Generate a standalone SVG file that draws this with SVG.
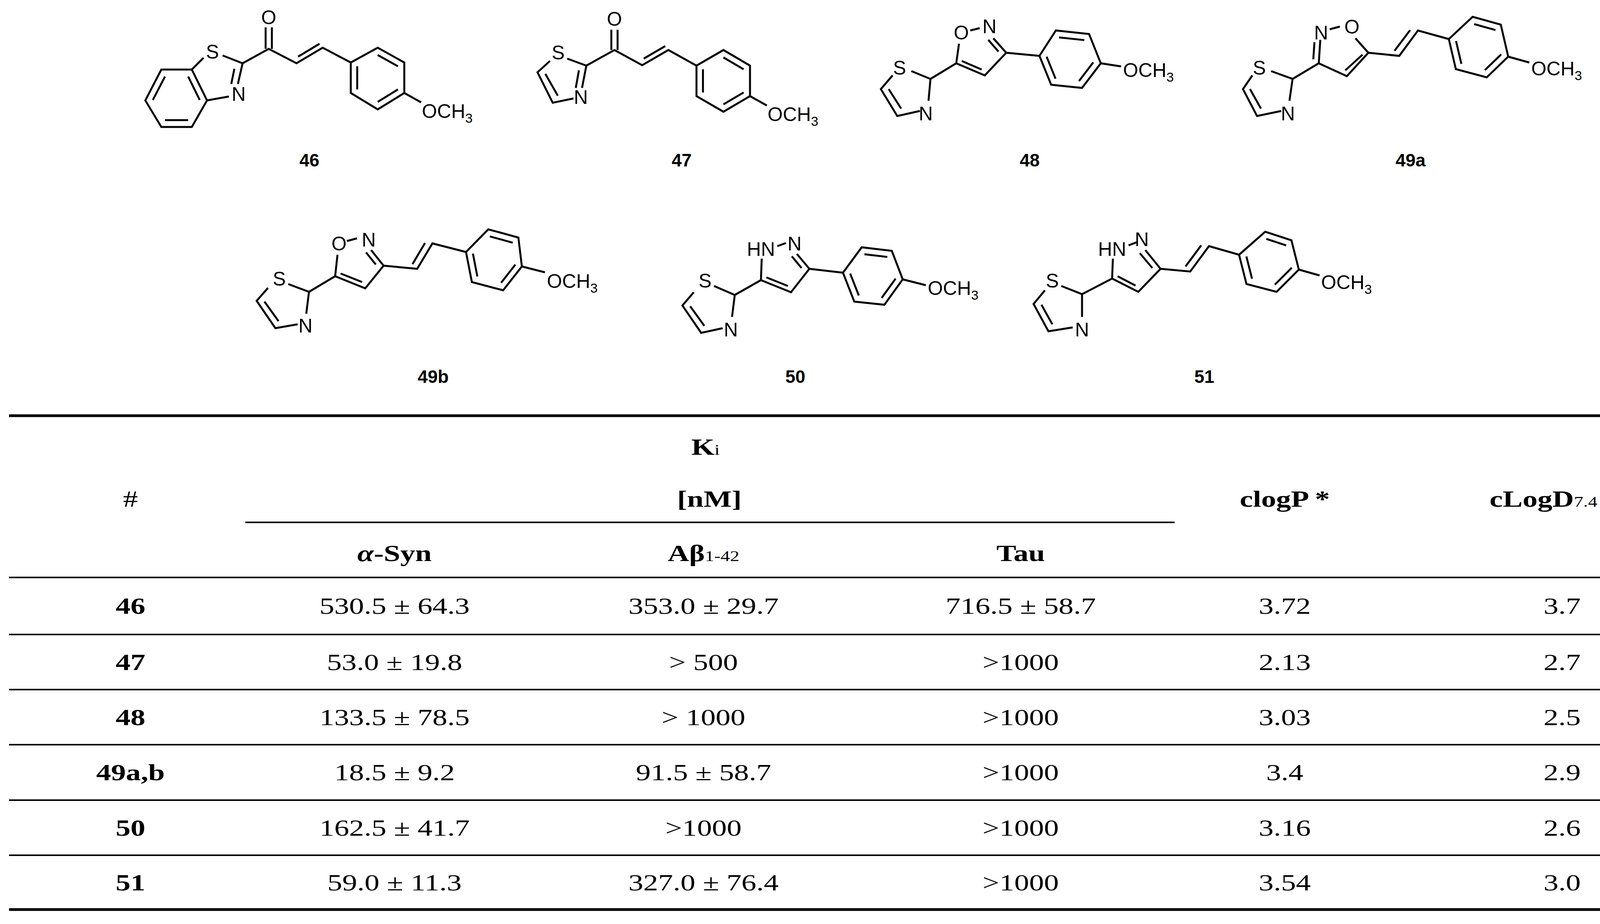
<svg xmlns="http://www.w3.org/2000/svg" width="4435" height="2365" viewBox="0 0 4435 2365">
<style>
.b{stroke:#000;stroke-width:5;fill:none;stroke-linejoin:miter;stroke-linecap:butt}
.in line,.in polyline{stroke:#000;stroke-width:5;fill:none;vector-effect:non-scaling-stroke}
.at{font-family:"Liberation Sans",Arial,sans-serif;font-size:50px;fill:#000;text-anchor:middle}
.ot{font-family:"Liberation Sans",Arial,sans-serif;font-size:50px;fill:#000}
.lb{font-family:"Liberation Sans",Arial,sans-serif;font-size:46px;font-weight:bold;fill:#000;text-anchor:middle}
.t{font-family:"Liberation Serif","Times New Roman",serif;font-size:60px;fill:#000;text-anchor:middle}
.tb{font-family:"Liberation Serif","Times New Roman",serif;font-size:60px;font-weight:bold;fill:#000;text-anchor:middle}
.rl{stroke:#000;stroke-width:4}
.tl{stroke:#000;stroke-width:7}
</style>
<rect width="4435" height="2365" fill="#fff"/>

<!-- 46 -->
<g id="c46">
<polygon class="b" points="413,178 491,178 530,257 491,325 413,325 372,257"/>
<g class="in" transform="matrix(0.76,0,0,0.76,108.5,60.5)"><line x1="413" y1="178" x2="372" y2="257"/><line x1="491" y1="178" x2="530" y2="257"/><line x1="491" y1="325" x2="413" y2="325"/></g>
<polyline class="b" points="491,178 521,148"/>
<polyline class="b" points="570,142 621,162 609,215"/>
<line class="b" x1="600" y1="176" x2="592" y2="215"/>
<polyline class="b" points="586,247 530,257"/>
<text class="at" x="544" y="150">S</text>
<text class="at" x="611" y="258">N</text>
<polyline class="b" points="621,162 688,125 759,162 826,122 898,160"/>
<line class="b" x1="763" y1="145" x2="818" y2="112"/>
<line class="b" x1="680" y1="125" x2="680" y2="70"/><line class="b" x1="696" y1="125" x2="696" y2="70"/>
<text class="at" x="688" y="62">O</text>
<polygon class="b" points="898,160 967,122 1035,160 1035,238 967,280 898,238"/>
<g class="in" transform="matrix(0.76,0,0,0.76,232,48)"><line x1="967" y1="122" x2="1035" y2="160"/><line x1="1035" y1="238" x2="967" y2="280"/><line x1="898" y1="238" x2="898" y2="160"/></g>
<line class="b" x1="1035" y1="238" x2="1078" y2="262"/>
<text class="ot" x="1080" y="302">OCH<tspan font-size="34" dy="12">3</tspan></text>
<text class="lb" x="792" y="426">46</text>
</g>

<!-- 47 -->
<g id="c47">
<polyline class="b" points="1452,150 1501,168 1490,225"/>
<line class="b" x1="1482" y1="180" x2="1474" y2="225"/>
<polyline class="b" points="1468,252 1415,263 1376,185 1408,156"/>
<line class="b" x1="1428" y1="245" x2="1396" y2="189"/>
<text class="at" x="1429" y="152">S</text>
<text class="at" x="1487" y="266">N</text>
<polyline class="b" points="1501,168 1573,128 1644,167 1711,128 1783,168"/>
<line class="b" x1="1648" y1="150" x2="1703" y2="118"/>
<line class="b" x1="1565" y1="128" x2="1565" y2="76"/><line class="b" x1="1581" y1="128" x2="1581" y2="76"/>
<text class="at" x="1573" y="66">O</text>
<polygon class="b" points="1783,168 1852,128 1920,168 1920,246 1852,286 1783,246"/>
<g class="in" transform="matrix(0.76,0,0,0.76,444.5,49.7)"><line x1="1852" y1="128" x2="1920" y2="168"/><line x1="1920" y1="246" x2="1852" y2="286"/><line x1="1783" y1="246" x2="1783" y2="168"/></g>
<line class="b" x1="1920" y1="246" x2="1963" y2="270"/>
<text class="ot" x="1965" y="310">OCH<tspan font-size="34" dy="12">3</tspan></text>
<text class="lb" x="1745" y="426">47</text>
</g>

<!-- 48 -->
<g id="c48">
<polyline class="b" points="2333,182 2382,202 2377,258"/>
<polyline class="b" points="2355,284 2297,297 2255,228 2285,193"/>
<line class="b" x1="2307" y1="278" x2="2275" y2="228"/>
<text class="at" x="2303" y="191">S</text>
<text class="at" x="2370" y="308">N</text>
<polyline class="b" points="2382,202 2448,162 2455,112"/>
<text class="at" x="2461" y="101">O</text>
<line class="b" x1="2484" y1="78" x2="2508" y2="72"/>
<text class="at" x="2533" y="85">N</text>
<polyline class="b" points="2543,98 2576,135 2521,193 2448,162"/>
<line class="b" x1="2530" y1="102" x2="2556" y2="132"/>
<line class="b" x1="2513" y1="178" x2="2462" y2="156"/>
<line class="b" x1="2576" y1="135" x2="2661" y2="143"/>
<polygon class="b" points="2661,143 2703,78 2788,87 2818,162 2770,225 2691,217"/>
<g class="in" transform="matrix(0.76,0,0,0.76,657,36.5)"><line x1="2703" y1="78" x2="2788" y2="87"/><line x1="2818" y1="162" x2="2770" y2="225"/><line x1="2691" y1="217" x2="2661" y2="143"/></g>
<line class="b" x1="2818" y1="162" x2="2870" y2="170"/>
<text class="ot" x="2875" y="197">OCH<tspan font-size="34" dy="12">3</tspan></text>
<text class="lb" x="2636" y="426">48</text>
</g>

<!-- 49a -->
<g id="c49a">
<polyline class="b" points="3254,182 3309,202 3301,258"/>
<polyline class="b" points="3280,284 3218,297 3182,228 3206,193"/>
<line class="b" x1="3228" y1="278" x2="3200" y2="228"/>
<text class="at" x="3224" y="191">S</text>
<text class="at" x="3297" y="308">N</text>
<polyline class="b" points="3309,202 3376,162 3380,102"/>
<line class="b" x1="3362" y1="152" x2="3365" y2="108"/>
<text class="at" x="3382" y="101">N</text>
<line class="b" x1="3404" y1="75" x2="3430" y2="68"/>
<text class="at" x="3461" y="86">O</text>
<polyline class="b" points="3470,98 3503,135 3448,195 3376,162"/>
<line class="b" x1="3488" y1="140" x2="3444" y2="180"/>
<polyline class="b" points="3503,135 3582,143 3630,78 3709,100"/>
<line class="b" x1="3570" y1="130" x2="3610" y2="77"/>
<polygon class="b" points="3709,100 3770,43 3842,63 3861,145 3806,198 3727,177"/>
<g class="in" transform="matrix(0.76,0,0,0.76,908.6,29)"><line x1="3770" y1="43" x2="3842" y2="63"/><line x1="3861" y1="145" x2="3806" y2="198"/><line x1="3727" y1="177" x2="3709" y2="100"/></g>
<line class="b" x1="3861" y1="145" x2="3915" y2="160"/>
<text class="ot" x="3920" y="193">OCH<tspan font-size="34" dy="12">3</tspan></text>
<text class="lb" x="3611" y="426">49a</text>
</g>

<!-- 49b -->
<g id="c49b">
<polyline class="b" points="738,727 791,747 784,803"/>
<polyline class="b" points="762,830 705,840 657,770 686,737"/>
<line class="b" x1="713" y1="822" x2="677" y2="772"/>
<text class="at" x="715" y="731">S</text>
<text class="at" x="782" y="851">N</text>
<polyline class="b" points="791,747 858,707 864,652"/>
<text class="at" x="868" y="641">O</text>
<line class="b" x1="888" y1="617" x2="914" y2="610"/>
<text class="at" x="944" y="631">N</text>
<polyline class="b" points="950,640 982,680 935,738 858,707"/>
<line class="b" x1="937" y1="646" x2="962" y2="677"/>
<line class="b" x1="927" y1="722" x2="872" y2="700"/>
<polyline class="b" points="982,680 1068,688 1107,623 1193,645"/>
<line class="b" x1="1056" y1="676" x2="1088" y2="622"/>
<polygon class="b" points="1193,645 1250,587 1327,608 1336,682 1288,743 1208,722"/>
<g class="in" transform="matrix(0.76,0,0,0.76,304,159)"><line x1="1250" y1="587" x2="1327" y2="608"/><line x1="1336" y1="682" x2="1288" y2="743"/><line x1="1208" y1="722" x2="1193" y2="645"/></g>
<line class="b" x1="1336" y1="682" x2="1395" y2="697"/>
<text class="ot" x="1400" y="737">OCH<tspan font-size="34" dy="12">3</tspan></text>
<text class="lb" x="1109" y="980">49b</text>
</g>

<!-- 50 -->
<g id="c50">
<polyline class="b" points="1828,732 1881,755 1874,811"/>
<polyline class="b" points="1850,840 1795,852 1747,782 1776,748"/>
<line class="b" x1="1803" y1="834" x2="1767" y2="784"/>
<text class="at" x="1805" y="736">S</text>
<text class="at" x="1871" y="861">N</text>
<polyline class="b" points="1881,755 1948,717 1950,662"/>
<text class="at" x="1948" y="655">HN</text>
<line class="b" x1="1990" y1="630" x2="2012" y2="622"/>
<text class="at" x="2034" y="641">N</text>
<polyline class="b" points="2040,650 2072,688 2025,748 1948,717"/>
<line class="b" x1="2027" y1="656" x2="2052" y2="686"/>
<line class="b" x1="2017" y1="732" x2="1962" y2="710"/>
<line class="b" x1="2072" y1="688" x2="2158" y2="698"/>
<polygon class="b" points="2158,698 2206,633 2283,642 2311,715 2264,780 2187,772"/>
<g class="in" transform="matrix(0.76,0,0,0.76,536.4,169.7)"><line x1="2206" y1="633" x2="2283" y2="642"/><line x1="2311" y1="715" x2="2264" y2="780"/><line x1="2187" y1="772" x2="2158" y2="698"/></g>
<line class="b" x1="2311" y1="715" x2="2370" y2="730"/>
<text class="ot" x="2375" y="755">OCH<tspan font-size="34" dy="12">3</tspan></text>
<text class="lb" x="2036" y="980">50</text>
</g>

<!-- 51 -->
<g id="c51">
<polyline class="b" points="2717,732 2770,753 2770,811"/>
<polyline class="b" points="2746,838 2684,848 2646,778 2675,743"/>
<line class="b" x1="2694" y1="830" x2="2666" y2="780"/>
<text class="at" x="2694" y="736">S</text>
<text class="at" x="2770" y="861">N</text>
<polyline class="b" points="2770,753 2847,713 2849,662"/>
<text class="at" x="2847" y="655">HN</text>
<line class="b" x1="2889" y1="628" x2="2910" y2="620"/>
<text class="at" x="2923" y="630">N</text>
<polyline class="b" points="2932,640 2971,688 2914,747 2847,713"/>
<line class="b" x1="2918" y1="648" x2="2950" y2="686"/>
<line class="b" x1="2907" y1="731" x2="2861" y2="707"/>
<polyline class="b" points="2971,688 3047,695 3095,630 3172,652"/>
<line class="b" x1="3035" y1="682" x2="3075" y2="628"/>
<polygon class="b" points="3172,652 3239,593 3306,615 3325,690 3268,747 3191,727"/>
<g class="in" transform="matrix(0.76,0,0,0.76,780,160.8)"><line x1="3239" y1="593" x2="3306" y2="615"/><line x1="3325" y1="690" x2="3268" y2="747"/><line x1="3191" y1="727" x2="3172" y2="652"/></g>
<line class="b" x1="3325" y1="690" x2="3378" y2="705"/>
<text class="ot" x="3382" y="740">OCH<tspan font-size="34" dy="12">3</tspan></text>
<text class="lb" x="3083" y="980">51</text>
</g>

<!-- table -->
<g id="table">
<line class="tl" x1="23" y1="1064" x2="4400" y2="1064"/>
<line class="rl" x1="628" y1="1337" x2="3007" y2="1337"/>
<line class="rl" x1="23" y1="1478" x2="4400" y2="1478"/>
<line class="rl" x1="23" y1="1624" x2="4400" y2="1624"/>
<line class="rl" x1="23" y1="1765" x2="4400" y2="1765"/>
<line class="rl" x1="23" y1="1906" x2="4400" y2="1906"/>
<line class="rl" x1="23" y1="2048" x2="4400" y2="2048"/>
<line class="rl" x1="23" y1="2189" x2="4400" y2="2189"/>
<line class="tl" x1="23" y1="2328" x2="4400" y2="2328"/>

<text class="tb" transform="translate(1806 1164) scale(1.27 1)">K<tspan font-size="38" font-weight="normal">i</tspan></text>
<text class="tb" transform="translate(1816 1297) scale(1.27 1)">[nM]</text>
<text class="t" transform="translate(334 1297) scale(1.27 1)">#</text>
<text class="tb" transform="translate(3289 1297) scale(1.27 1)">clogP *</text>
<text class="tb" transform="translate(3999 1297) scale(1.27 1)">cLogD<tspan font-size="38" font-weight="normal">7.4</tspan> **</text>
<text class="tb" transform="translate(1010 1436) scale(1.27 1)"><tspan font-style="italic">α</tspan>-Syn</text>
<text class="tb" transform="translate(1801 1436) scale(1.27 1)">Aβ<tspan font-size="38" font-weight="normal">1-42</tspan></text>
<text class="tb" transform="translate(2613 1436) scale(1.27 1)">Tau</text>

<g>
<text class="tb" transform="translate(334 1571) scale(1.27 1)">46</text>
<text class="t" transform="translate(1010 1571) scale(1.27 1)">530.5 ± 64.3</text>
<text class="t" transform="translate(1801 1571) scale(1.27 1)">353.0 ± 29.7</text>
<text class="t" transform="translate(2613 1571) scale(1.27 1)">716.5 ± 58.7</text>
<text class="t" transform="translate(3289 1571) scale(1.27 1)">3.72</text>
<text class="t" transform="translate(3999 1571) scale(1.27 1)">3.7</text>
</g>
<g>
<text class="tb" transform="translate(334 1715) scale(1.27 1)">47</text>
<text class="t" transform="translate(1010 1715) scale(1.27 1)">53.0 ± 19.8</text>
<text class="t" transform="translate(1801 1715) scale(1.27 1)">&gt; 500</text>
<text class="t" transform="translate(2613 1715) scale(1.27 1)">&gt;1000</text>
<text class="t" transform="translate(3289 1715) scale(1.27 1)">2.13</text>
<text class="t" transform="translate(3999 1715) scale(1.27 1)">2.7</text>
</g>
<g>
<text class="tb" transform="translate(334 1856) scale(1.27 1)">48</text>
<text class="t" transform="translate(1010 1856) scale(1.27 1)">133.5 ± 78.5</text>
<text class="t" transform="translate(1801 1856) scale(1.27 1)">&gt; 1000</text>
<text class="t" transform="translate(2613 1856) scale(1.27 1)">&gt;1000</text>
<text class="t" transform="translate(3289 1856) scale(1.27 1)">3.03</text>
<text class="t" transform="translate(3999 1856) scale(1.27 1)">2.5</text>
</g>
<g>
<text class="tb" transform="translate(334 1997) scale(1.27 1)">49a,b</text>
<text class="t" transform="translate(1010 1997) scale(1.27 1)">18.5 ± 9.2</text>
<text class="t" transform="translate(1801 1997) scale(1.27 1)">91.5 ± 58.7</text>
<text class="t" transform="translate(2613 1997) scale(1.27 1)">&gt;1000</text>
<text class="t" transform="translate(3289 1997) scale(1.27 1)">3.4</text>
<text class="t" transform="translate(3999 1997) scale(1.27 1)">2.9</text>
</g>
<g>
<text class="tb" transform="translate(334 2139) scale(1.27 1)">50</text>
<text class="t" transform="translate(1010 2139) scale(1.27 1)">162.5 ± 41.7</text>
<text class="t" transform="translate(1801 2139) scale(1.27 1)">&gt;1000</text>
<text class="t" transform="translate(2613 2139) scale(1.27 1)">&gt;1000</text>
<text class="t" transform="translate(3289 2139) scale(1.27 1)">3.16</text>
<text class="t" transform="translate(3999 2139) scale(1.27 1)">2.6</text>
</g>
<g>
<text class="tb" transform="translate(334 2279) scale(1.27 1)">51</text>
<text class="t" transform="translate(1010 2279) scale(1.27 1)">59.0 ± 11.3</text>
<text class="t" transform="translate(1801 2279) scale(1.27 1)">327.0 ± 76.4</text>
<text class="t" transform="translate(2613 2279) scale(1.27 1)">&gt;1000</text>
<text class="t" transform="translate(3289 2279) scale(1.27 1)">3.54</text>
<text class="t" transform="translate(3999 2279) scale(1.27 1)">3.0</text>
</g>
</g>
</svg>
